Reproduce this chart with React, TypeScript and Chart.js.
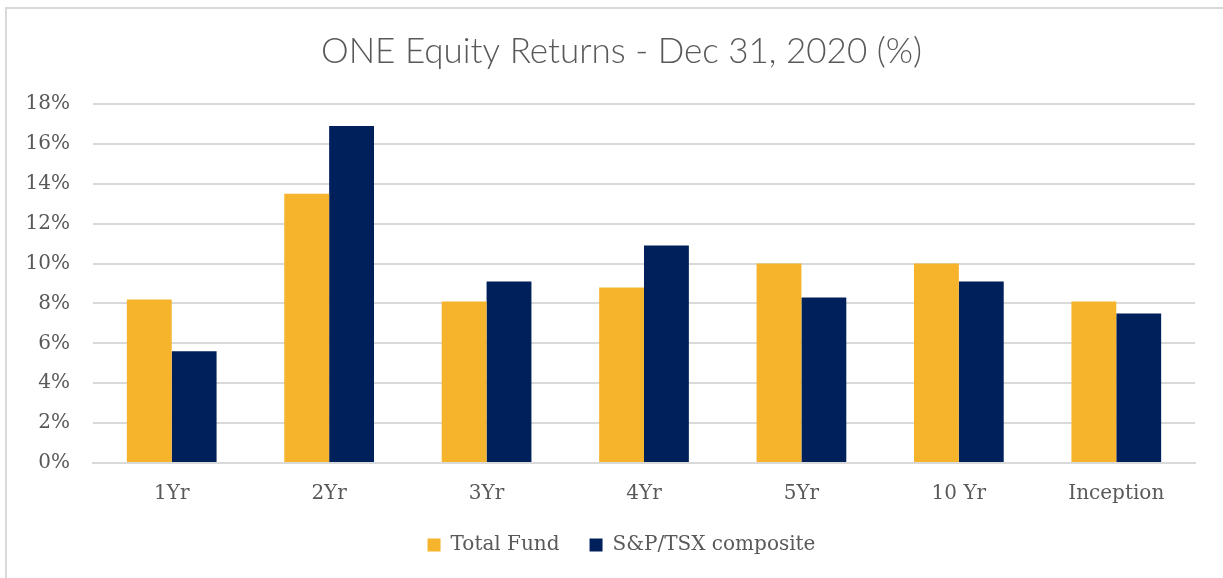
import React, { useEffect, useRef } from "react";
import { Chart, registerables } from "chart.js";

Chart.register(...registerables);

const categories = ["1Yr", "2Yr", "3Yr", "4Yr", "5Yr", "10 Yr", "Inception"];
const totalFund = [8.2, 13.5, 8.1, 8.8, 10.0, 10.0, 8.1];
const spTsx = [5.6, 16.9, 9.1, 10.9, 8.3, 9.1, 7.5];
const yTicks = [0, 2, 4, 6, 8, 10, 12, 14, 16, 18];
const titleText = "ONE Equity Returns - Dec 31, 2020 (%)";
const seriesNames = ["Total Fund", "S&P/TSX composite"];

const GOLD = "#F6B42D";
const NAVY = "#00205B";
const TEXT = "#595959";
const GRID = "#D9D9D9";
const SERIF = "'DejaVu Serif', serif";

export default function App() {
  const ref = useRef<HTMLCanvasElement | null>(null);

  useEffect(() => {
    if (!ref.current) return;
    const chart = new Chart(ref.current, {
      type: "bar",
      data: {
        labels: categories,
        datasets: [
          {
            label: seriesNames[0],
            data: totalFund,
            backgroundColor: GOLD,
            borderWidth: 0,
            categoryPercentage: 0.57,
            barPercentage: 1,
          },
          {
            label: seriesNames[1],
            data: spTsx,
            backgroundColor: NAVY,
            borderWidth: 0,
            categoryPercentage: 0.57,
            barPercentage: 1,
          },
        ],
      },
      options: {
        animation: false,
        responsive: false,
        maintainAspectRatio: false,
        layout: { padding: { top: 0, right: 0, bottom: 13, left: 20 } },
        plugins: {
          title: {
            display: true,
            text: titleText,
            color: TEXT,
            font: { family: "Lato, sans-serif", size: 35, weight: "300" as any, lineHeight: 1.2 },
            padding: { top: 31, bottom: 31 },
          },
          legend: {
            position: "bottom",
            labels: {
              boxWidth: 13,
              boxHeight: 13,
              color: TEXT,
              padding: 30,
              font: { family: SERIF, size: 20 },
            },
          },
          tooltip: { enabled: false },
        },
        scales: {
          x: {
            grid: { display: false, drawTicks: false },
            border: { display: true, color: GRID, width: 2 },
            ticks: {
              color: TEXT,
              font: { family: SERIF, size: 20 },
              padding: 19,
              maxRotation: 0,
              autoSkip: false,
            },
            afterFit: (axis: any) => {
              axis.height = 42;
            },
          },
          y: {
            min: 0,
            max: 18,
            afterBuildTicks: (axis: any) => {
              axis.ticks = yTicks.map((v) => ({ value: v }));
            },
            grid: { color: GRID, lineWidth: 2, drawTicks: false },
            border: { display: false },
            ticks: {
              color: TEXT,
              font: { family: SERIF, size: 20 },
              padding: 23,
              callback: (v: any) => `${v}%`,
            },
            afterFit: (axis: any) => {
              axis.width = 73;
            },
          },
          yRight: {
            position: "right",
            min: 0,
            max: 18,
            grid: { display: false, drawTicks: false },
            border: { display: false },
            ticks: { display: false },
            afterFit: (axis: any) => {
              axis.width = 28;
            },
          },
        },
      },
    });
    return () => chart.destroy();
  }, []);

  return (
    <div
      style={{
        position: "fixed",
        left: 0,
        top: 0,
        width: 1223,
        height: 578,
        background: "#fff",
      }}
    >
      <div
        style={{
          position: "absolute",
          left: 5,
          top: 7,
          right: 0,
          bottom: 0,
          borderTop: "2px solid #D9D9D9",
          borderLeft: "2px solid #D9D9D9",
          pointerEvents: "none",
        }}
      />
      <canvas
        ref={ref}
        width={1223}
        height={578}
        style={{ position: "absolute", left: 0, top: 0, width: 1223, height: 578 }}
      />
    </div>
  );
}
